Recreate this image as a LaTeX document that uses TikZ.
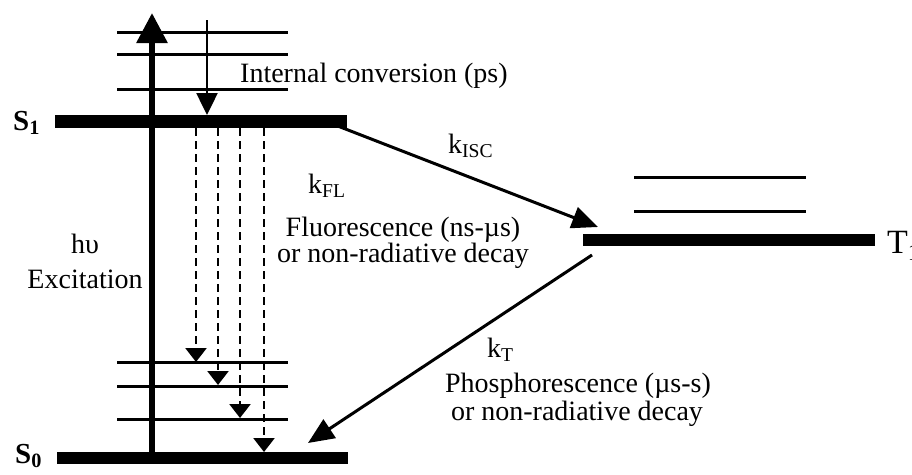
\documentclass[tikz,border=0pt]{standalone}
\usepackage{fontspec}
\setmainfont{Liberation Serif}
\usetikzlibrary{arrows.meta}

\begin{document}
\begin{tikzpicture}[x=1pt,y=-1pt,
  level/.style={line width=12.5pt},
  vib/.style={line width=3pt},
  txt/.style={font=\fontsize{28}{32}\selectfont, inner sep=0pt},
  lbl/.style={font=\fontsize{29}{33}\selectfont\bfseries, inner sep=0pt},
  fl/.style={line width=2.5pt, dash pattern=on 8pt off 5pt, -{Triangle[length=14pt,width=21pt]}},
  trans/.style={line width=3pt, -{Triangle[length=26pt,width=22pt]}}]
\useasboundingbox (0,0) rectangle (912,474);

\coordinate (S1w) at (55,121.5);
\coordinate (S1e) at (347,121.5);
\coordinate (S0w) at (57,458);
\coordinate (S0e) at (348,458);
\coordinate (T1w) at (583,240);
\coordinate (T1e) at (875,240);

% electronic levels
\draw[level] (S1w) -- (S1e);
\draw[level] (S0w) -- (S0e);
\draw[level] (T1w) -- (T1e);

% vibrational levels
\foreach \y in {32,54,89} \draw[vib] (117,\y) -- (288,\y);
\foreach \y in {362,386,419} \draw[vib] (117,\y) -- (288,\y);
\foreach \y in {177,211} \draw[vib] (634,\y) -- (806,\y);

% excitation
\coordinate (exA) at (152,452);
\coordinate (exB) at (152,13);
\draw[line width=6pt, -{Triangle[length=30pt,width=30pt]}] (exA) -- (exB);

% internal conversion
\coordinate (icA) at (207,20);
\coordinate (icB) at (207,115);
\draw[line width=2.5pt, -{Triangle[length=22pt,width=21pt]}] (icA) -- (icB);

% fluorescence
\foreach \i/\x/\t in {1/196/362,2/218/385,3/240/418,4/264/452}{
  \coordinate (fa\i) at (\x,128);
  \coordinate (fb\i) at (\x,\t);
  \draw[fl] (fa\i) -- (fb\i);
}

% intersystem crossing and phosphorescence
\coordinate (iscA) at (330,123);
\coordinate (iscB) at (598,227);
\draw[trans] (iscA) -- (iscB);
\coordinate (phA) at (592,255);
\coordinate (phB) at (308,443);
\draw[trans] (phA) -- (phB);

\node[lbl, anchor=base west] (s1) at (13,130) {S\textsubscript{1}};
\node[lbl, anchor=base west] (s0) at (15,463) {S\textsubscript{0}};
\node[txt, font=\fontsize{34}{38}\selectfont, anchor=base west] (t1) at (887,253) {T\textsubscript{1}};

\node[txt, anchor=base west] (ic) at (240,82) {Internal conversion (ps)};
\node[txt, anchor=base] (hv) at (85,253) {hυ};
\node[txt, anchor=base] (exc) at (85,288) {Excitation};
\node[txt, anchor=base west] (kfl) at (308,193) {k\textsubscript{FL}};
\node[txt, font=\fontsize{28}{25}\selectfont, align=center] (fl) at (403,243)
  {Fluorescence (ns-µs)\\or non-radiative decay};
\node[txt, anchor=base west] (kisc) at (448,153) {k\textsubscript{ISC}};
\node[txt, anchor=base west] (kt) at (487,357) {k\textsubscript{T}};
\node[txt, anchor=base] (ph1) at (578,392) {Phosphorescence (µs-s)};
\node[txt, anchor=base] (ph2) at (577,420) {or non-radiative decay};
\end{tikzpicture}
\end{document}
